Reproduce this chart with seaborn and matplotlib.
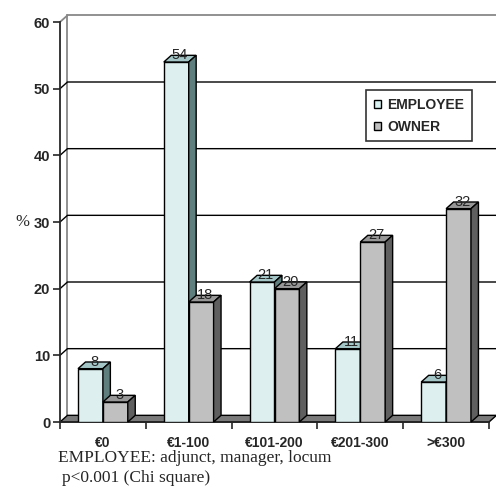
import pandas as pd
import matplotlib.pyplot as plt
import seaborn as sns
from matplotlib.patches import Polygon, Patch
from matplotlib.ticker import FixedLocator

# data
ranges = ['€0', '€1-100', '€101-200', '€201-300', '>€300']
employee = [8, 54, 21, 11, 6]
owner = [3, 18, 20, 27, 32]
groups = ['EMPLOYEE', 'OWNER']

df = pd.DataFrame({
    'range': ranges * 2,
    'pct': employee + owner,
    'group': [groups[0]] * len(ranges) + [groups[1]] * len(ranges),
})

sns.set_style('white')
plt.rcParams['font.family'] = ['Liberation Sans', 'DejaVu Sans']

front = {'EMPLOYEE': '#daf2f2', 'OWNER': '#c0c0c0'}
top_c = {'EMPLOYEE': '#a4c6c6', 'OWNER': '#979797'}
side_c = {'EMPLOYEE': '#5f7f7f', 'OWNER': '#5f5f5f'}

fig = plt.figure(figsize=(4.96, 4.88), dpi=100)
ax = fig.add_axes([60 / 496, 66 / 488, 429 / 496, 400 / 488])

sns.barplot(data=df, x='range', y='pct', hue='group', palette=front,
            width=0.58, edgecolor='black', linewidth=1, legend=False, ax=ax)

ax.set_xlim(-0.5, 4.5)
ax.set_ylim(0, 60)
dx, dy = 0.087, 1.0  # pseudo-3D depth

# back wall, gridlines and floor
wall = '#888888'
ax.plot([-0.5, -0.5 + dx], [60, 60 + dy], color=wall, lw=1.3, clip_on=False, zorder=1)
ax.plot([-0.5 + dx, -0.5 + dx], [dy, 60 + dy], color=wall, lw=1.3, clip_on=False, zorder=1)
ax.plot([-0.5 + dx, 4.5 + dx + 0.2], [60 + dy, 60 + dy], color=wall, lw=1.3,
        clip_on=False, zorder=1)
for v in range(10, 60, 10):
    ax.plot([-0.5, -0.5 + dx, 4.5 + dx + 0.2], [v, v + dy, v + dy], color='black', lw=1,
            clip_on=False, zorder=1)
ax.add_patch(Polygon([(-0.5, 0), (4.5, 0), (4.5 + dx, dy), (-0.5 + dx, dy)],
                     closed=True, facecolor='#7a7a7a', edgecolor='black', lw=1,
                     clip_on=False, zorder=1.5))

# top and side faces for each bar
bars = sorted(ax.patches[:len(df)], key=lambda p: p.get_x())
for i, p in enumerate(bars):
    x, w, h = p.get_x(), p.get_width(), p.get_height()
    g = 'EMPLOYEE' if abs(p.get_facecolor()[0] - 0xda / 255) < 0.02 else 'OWNER'
    z = 3 + 0.1 * i
    p.set_zorder(z)
    ax.add_patch(Polygon([(x, h), (x + w, h), (x + w + dx, h + dy), (x + dx, h + dy)],
                         closed=True, facecolor=top_c[g], edgecolor='black', lw=1,
                         clip_on=False, zorder=z + 0.01))
    ax.add_patch(Polygon([(x + w, 0), (x + w + dx, dy), (x + w + dx, h + dy), (x + w, h)],
                         closed=True, facecolor=side_c[g], edgecolor='black', lw=1,
                         clip_on=False, zorder=z + 0.02))
    ax.text(x + w / 2 + dx / 2, h + dy, f'{h:.0f}', ha='center', va='center',
            fontsize=10.5, zorder=10)

# axes styling
sns.despine(ax=ax, top=True, right=True)
ax.spines['left'].set_linewidth(1.3)
ax.spines['bottom'].set_linewidth(1.3)
ax.spines['left'].set_zorder(2)
ax.spines['bottom'].set_zorder(2)
ax.tick_params(axis='y', direction='out', length=5, width=1.2, pad=2, left=True,
               labelsize=10.5)
ax.tick_params(axis='x', which='major', length=0, pad=10, labelsize=10)
ax.tick_params(axis='x', which='minor', direction='out', length=5, width=1.2, bottom=True)
ax.set_yticks(range(0, 61, 10))
ax.set_yticklabels([str(v) for v in range(0, 61, 10)], fontweight='bold', fontsize=10.5)
ax.set_xticks(range(len(ranges)))
ax.set_xticklabels(ranges, fontweight='bold', fontsize=10)
ax.xaxis.set_minor_locator(FixedLocator([-0.5, 0.5, 1.5, 2.5, 3.5, 4.5]))
ax.set_xlabel('')
ax.set_ylabel('')

handles = [Patch(facecolor=front[g], edgecolor='black', lw=1) for g in groups]
leg = ax.legend(handles, groups, loc='upper left', bbox_to_anchor=(366 / 496, 1 - 90 / 488),
                bbox_transform=fig.transFigure, borderaxespad=0, frameon=True,
                fancybox=False, edgecolor='black', handlelength=0.5, handleheight=0.5,
                handletextpad=0.5, borderpad=0.55, labelspacing=0.58,
                prop={'weight': 'bold', 'size': 10})
leg.get_frame().set_linewidth(1.2)
leg.set_zorder(20)

fig.text(15 / 496, 1 - 222 / 488, '%', family='Liberation Serif', fontsize=12, va='center')
fig.text(58 / 496, 1 - 458 / 488, 'EMPLOYEE: adjunct, manager, locum',
         family='Liberation Serif', fontsize=12.5, va='center')
fig.text(62 / 496, 1 - 478 / 488, 'p<0.001 (Chi square)',
         family='Liberation Serif', fontsize=12.5, va='center')

fig.savefig('out.png', dpi=100)
